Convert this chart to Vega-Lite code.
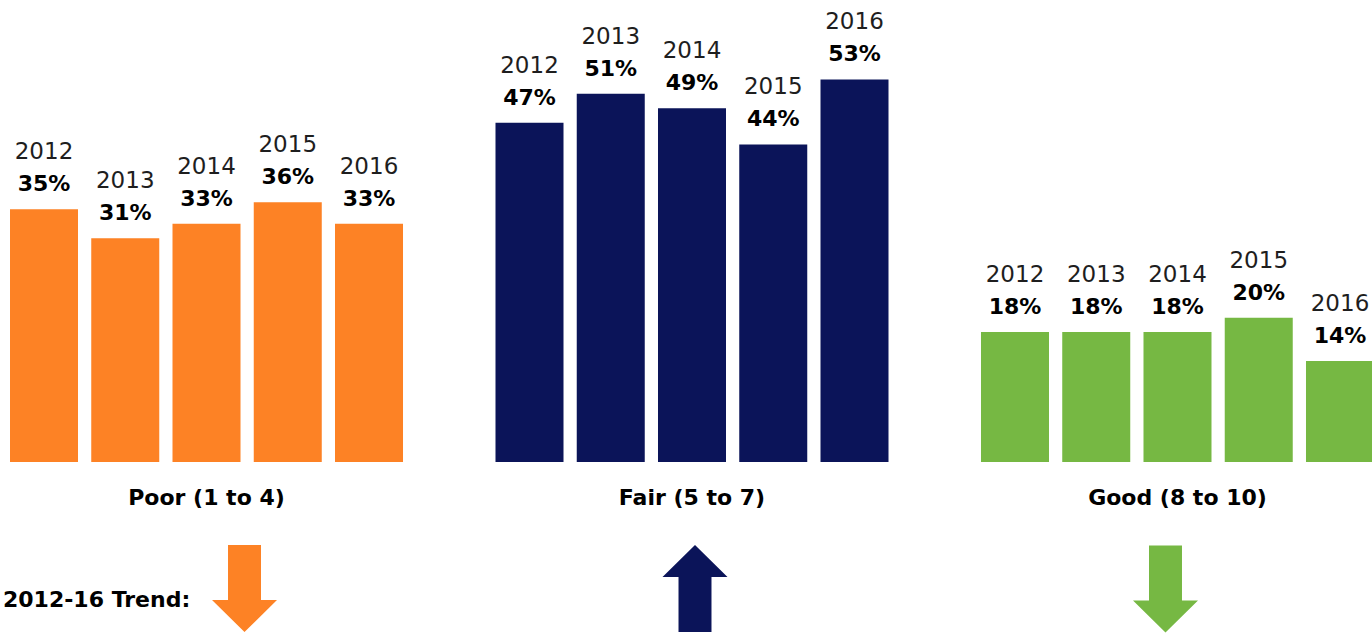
{
  "$schema": "https://vega.github.io/schema/vega-lite/v6.json",
  "width": 1372,
  "height": 633,
  "autosize": {"type": "none"},
  "padding": 0,
  "background": "white",
  "config": {"view": {"stroke": null}, "font": "DejaVu Sans"},
  "datasets": {
    "bars": [
      {"rating": "Poor (1 to 4)", "year": "2012", "share": 0.35},
      {"rating": "Poor (1 to 4)", "year": "2013", "share": 0.31},
      {"rating": "Poor (1 to 4)", "year": "2014", "share": 0.33},
      {"rating": "Poor (1 to 4)", "year": "2015", "share": 0.36},
      {"rating": "Poor (1 to 4)", "year": "2016", "share": 0.33},
      {"rating": "Fair (5 to 7)", "year": "2012", "share": 0.47},
      {"rating": "Fair (5 to 7)", "year": "2013", "share": 0.51},
      {"rating": "Fair (5 to 7)", "year": "2014", "share": 0.49},
      {"rating": "Fair (5 to 7)", "year": "2015", "share": 0.44},
      {"rating": "Fair (5 to 7)", "year": "2016", "share": 0.53},
      {"rating": "Good (8 to 10)", "year": "2012", "share": 0.18},
      {"rating": "Good (8 to 10)", "year": "2013", "share": 0.18},
      {"rating": "Good (8 to 10)", "year": "2014", "share": 0.18},
      {"rating": "Good (8 to 10)", "year": "2015", "share": 0.20},
      {"rating": "Good (8 to 10)", "year": "2016", "share": 0.14}
    ],
    "groups": [
      {"rating": "Poor (1 to 4)", "trend": "down"},
      {"rating": "Fair (5 to 7)", "trend": "up"},
      {"rating": "Good (8 to 10)", "trend": "down"}
    ]
  },
  "layer": [
    {
      "data": {"name": "bars"},
      "mark": {"type": "bar", "stroke": null},
      "encoding": {
        "x": {
          "field": "rating", "type": "nominal", "sort": null,
          "scale": {"domain": ["Poor (1 to 4)", "Fair (5 to 7)", "Good (8 to 10)"], "range": [0, 1384], "paddingInner": 0.1905, "paddingOuter": 0.0206},
          "axis": null
        },
        "xOffset": {"field": "year", "type": "nominal", "sort": null, "scale": {"paddingInner": 0.163, "paddingOuter": 0}},
        "y": {"field": "share", "type": "quantitative", "stack": null, "scale": {"domain": [-0.2368, 0.64], "nice": false, "zero": false}, "axis": null},
        "y2": {"datum": 0},
        "color": {"field": "rating", "type": "nominal", "scale": {"domain": ["Poor (1 to 4)", "Fair (5 to 7)", "Good (8 to 10)"], "range": ["#FD8225", "#0B1459", "#76B843"]}, "legend": null}
      }
    },
    {
      "data": {"name": "bars"},
      "mark": {"type": "text", "baseline": "alphabetic", "align": "center", "dy": -18, "fontSize": 22, "fontWeight": "bold", "color": "#000000"},
      "encoding": {
        "x": {"field": "rating", "type": "nominal", "sort": null},
        "xOffset": {"field": "year", "type": "nominal", "sort": null},
        "y": {"field": "share", "type": "quantitative"},
        "text": {"field": "share", "type": "quantitative", "format": ".0%"}
      }
    },
    {
      "data": {"name": "bars"},
      "mark": {"type": "text", "baseline": "alphabetic", "align": "center", "dy": -50, "fontSize": 23, "color": "#1e1e1e"},
      "encoding": {
        "x": {"field": "rating", "type": "nominal", "sort": null},
        "xOffset": {"field": "year", "type": "nominal", "sort": null},
        "y": {"field": "share", "type": "quantitative"},
        "text": {"field": "year", "type": "nominal"}
      }
    },
    {
      "data": {"name": "groups"},
      "mark": {"type": "text", "baseline": "alphabetic", "align": "center", "dy": 43, "fontSize": 22, "fontWeight": "bold", "color": "#000000"},
      "encoding": {
        "x": {"field": "rating", "type": "nominal", "sort": null},
        "y": {"datum": 0},
        "text": {"field": "rating", "type": "nominal"}
      }
    },
    {
      "data": {"name": "groups"},
      "transform": [{"filter": "datum.rating === 'Poor (1 to 4)'"}],
      "mark": {"type": "text", "text": "2012-16 Trend:", "baseline": "alphabetic", "align": "left", "dx": -7, "dy": 145, "fontSize": 22, "fontWeight": "bold", "color": "#000000"},
      "encoding": {
        "x": {"field": "rating", "type": "nominal", "sort": null, "bandPosition": 0},
        "y": {"datum": 0}
      }
    },
    {
      "data": {"name": "groups"},
      "transform": [{"filter": "datum.rating === 'Poor (1 to 4)'"}],
      "mark": {"type": "point", "filled": true, "opacity": 1, "strokeWidth": 0, "size": 7569, "yOffset": 126.5, "xOffset": 38,
        "shape": "M -0.379 -1 L 0.379 -1 L 0.379 0.264 L 0.747 0.264 L 0 1 L -0.747 0.264 L -0.379 0.264 Z"},
      "encoding": {
        "x": {"field": "rating", "type": "nominal", "sort": null},
        "y": {"datum": 0},
        "color": {"field": "rating", "type": "nominal"}
      }
    },
    {
      "data": {"name": "groups"},
      "transform": [{"filter": "datum.rating === 'Fair (5 to 7)'"}],
      "mark": {"type": "point", "filled": true, "opacity": 1, "strokeWidth": 0, "size": 7569, "yOffset": 126.5, "xOffset": 3,
        "shape": "M -0.379 1 L 0.379 1 L 0.379 -0.264 L 0.747 -0.264 L 0 -1 L -0.747 -0.264 L -0.379 -0.264 Z"},
      "encoding": {
        "x": {"field": "rating", "type": "nominal", "sort": null},
        "y": {"datum": 0},
        "color": {"field": "rating", "type": "nominal"}
      }
    },
    {
      "data": {"name": "groups"},
      "transform": [{"filter": "datum.rating === 'Good (8 to 10)'"}],
      "mark": {"type": "point", "filled": true, "opacity": 1, "strokeWidth": 0, "size": 7569, "yOffset": 127, "xOffset": -12,
        "shape": "M -0.379 -1 L 0.379 -1 L 0.379 0.264 L 0.747 0.264 L 0 1 L -0.747 0.264 L -0.379 0.264 Z"},
      "encoding": {
        "x": {"field": "rating", "type": "nominal", "sort": null},
        "y": {"datum": 0},
        "color": {"field": "rating", "type": "nominal"}
      }
    }
  ]
}
